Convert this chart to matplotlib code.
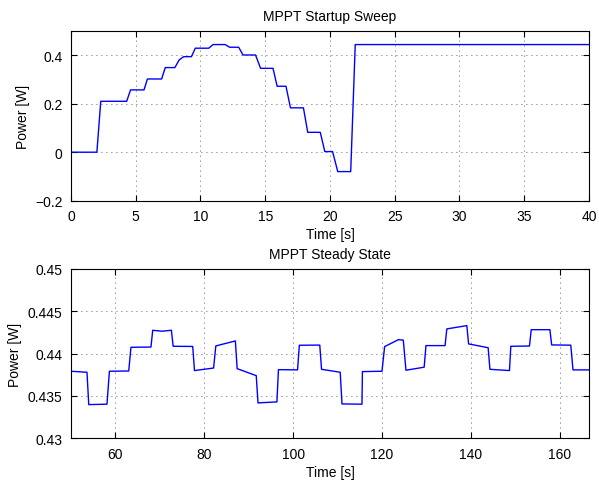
import matplotlib
matplotlib.use("Agg")
import matplotlib.pyplot as plt

plt.rcParams['font.family'] = ['Liberation Sans', 'DejaVu Sans']
plt.rcParams['font.size'] = 10

# startup sweep (time [s], power [W])
t_start = [0, 2.0, 2.3, 4.3, 4.6, 5.64, 5.9, 7.0, 7.28, 8.02, 8.36, 8.7, 9.3, 9.6,
           10.64, 10.97, 11.9, 12.25, 12.95, 13.28, 14.25, 14.64, 15.6, 15.92,
           16.6, 16.95, 17.95, 18.28, 19.25, 19.6, 20.2, 20.6, 21.6, 21.95, 40]
p_start = [0, 0, 0.21, 0.21, 0.257, 0.257, 0.302, 0.302, 0.349, 0.349, 0.381, 0.394,
           0.394, 0.429, 0.429, 0.444, 0.444, 0.433, 0.433, 0.401, 0.401, 0.346,
           0.346, 0.272, 0.272, 0.183, 0.183, 0.082, 0.082, 0.0025, 0.0025, -0.08,
           -0.08, 0.444, 0.444]

# steady state
t_ss = [50, 53.6, 54.0, 58.1, 58.65, 63.0, 63.5, 68.0, 68.4, 70.5, 72.6, 73.0, 77.4,
        77.8, 82.1, 82.6, 87.0, 87.4, 91.7, 92.1, 96.35, 96.7, 101.0, 101.4, 106.0,
        106.4, 110.6, 111.0, 115.5, 115.6, 120.0, 120.6, 123.7, 124.8, 125.4, 129.5,
        129.9, 134.2, 134.6, 139.1, 139.5, 143.9, 144.3, 148.7, 149.0, 153.2, 153.6,
        157.8, 158.2, 162.5, 163.0, 166.6]
p_ss = [0.43792, 0.4378, 0.43398, 0.43403, 0.43792, 0.43795, 0.44075, 0.44078,
        0.44276, 0.44265, 0.44276, 0.44087, 0.44085, 0.43800, 0.4383, 0.44091,
        0.44150, 0.43823, 0.4374, 0.43418, 0.4343, 0.43811, 0.43808, 0.44099,
        0.44101, 0.43815, 0.4378, 0.43406, 0.43403, 0.43788, 0.43792, 0.44083,
        0.44165, 0.44160, 0.43804, 0.4384, 0.44095, 0.44095, 0.44292, 0.44331,
        0.44115, 0.4407, 0.43815, 0.4380, 0.44087, 0.44090, 0.44283, 0.44283,
        0.44103, 0.44100, 0.43808, 0.43808]

fig = plt.figure(figsize=(5.99, 4.81), dpi=100)
ax1 = fig.add_axes([0.1185, 0.5807, 0.8648, 0.3528])
ax2 = fig.add_axes([0.1185, 0.0867, 0.8648, 0.3520])

ax1.plot(t_start, p_start, color="#0000ff", lw=1)
ax1.set_xlim(0, 40)
ax1.set_ylim(-0.2, 0.5)
ax1.set_xticks(range(0, 41, 5))
ax1.set_yticks([-0.2, 0, 0.2, 0.4])
ax1.set_yticklabels(["\u22120.2", "0", "0.2", "0.4"])
ax1.set_title("MPPT Startup Sweep", fontsize=10, pad=8)
ax1.set_xlabel("Time [s]", labelpad=3)
ax1.set_ylabel("Power [W]", labelpad=4)

ax2.plot(t_ss, p_ss, color="#0000ff", lw=1)
ax2.set_xlim(50, 166.6)
ax2.set_ylim(0.43, 0.45)
ax2.set_xticks([60, 80, 100, 120, 140, 160])
ax2.set_yticks([0.43, 0.435, 0.44, 0.445, 0.45])
ax2.set_yticklabels(["0.43", "0.435", "0.44", "0.445", "0.45"])
ax2.set_title("MPPT Steady State", fontsize=10, pad=8)
ax2.set_xlabel("Time [s]", labelpad=3)
ax2.set_ylabel("Power [W]", labelpad=4)

for ax in (ax1, ax2):
    ax.grid(True, color="#333333", linestyle=(0, (1, 5)), linewidth=0.6)
    ax.tick_params(direction="in", top=True, right=True, length=4, width=0.8, pad=6)
    for s in ax.spines.values():
        s.set_linewidth(0.8)

fig.savefig("out.png", dpi=100)
